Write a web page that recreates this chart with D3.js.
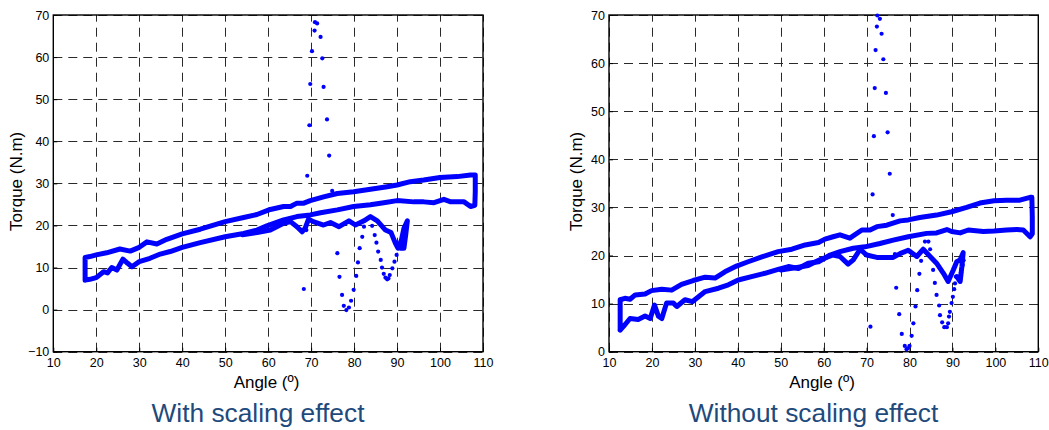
<!DOCTYPE html>
<html>
<head>
<meta charset="utf-8">
<script src="https://cdn.jsdelivr.net/npm/d3@7"></script>
<style>
  html, body { margin: 0; padding: 0; background: #fff; }
  svg { display: block; }
  text { font-family: "Liberation Sans", Arial, sans-serif; }
</style>
</head>
<body>
<svg id="chart" width="1049" height="430"></svg>
<script>
// ---- Data: torque (N.m) against angle (º), [angle, torque] pairs ----

// Left panel: with scaling effect
const scaledLoop = [
  [17.4, 7.0], [18.5, 7.2], [20, 7.6], [21.7, 9.0], [22.6, 8.7], [23.6, 10.0], [24.8, 9.4],
  [26.2, 12.0], [27.3, 11.0], [28.3, 10.2], [30, 11.4], [32.5, 12.2], [34.9, 13.2], [37.2, 13.8],
  [40, 14.8], [44.2, 15.9], [50, 17.3], [54.3, 18.1], [57.4, 18.9], [59.7, 19.9], [63.6, 21.3],
  [66.7, 22.1], [69.8, 22.5], [72.2, 23.0], [76.1, 23.7], [79.9, 24.5], [83.8, 24.9], [86.9, 25.4],
  [90, 25.9], [93.9, 25.6], [96.2, 25.6], [98.6, 25.4], [100.9, 26.2], [102.5, 25.6], [105.6, 25.6],
  [107.1, 24.5], [108.1, 24.8], [108.2, 28.0], [108.2, 32.0],
  [107.1, 32.0], [104, 31.6], [100, 31.4], [96.2, 30.8], [93.1, 30.4], [90, 29.6], [87.7, 29.2],
  [83.8, 28.6], [79.9, 28.0], [76.1, 27.6], [72.9, 26.8], [69.8, 25.9], [68.3, 25.3], [66.7, 25.3],
  [65.2, 24.5], [63.6, 24.5], [60.5, 23.8], [57.4, 22.6], [54.3, 21.9], [50, 20.9], [44.2, 19.1],
  [40, 18.0], [36.4, 16.7], [34.1, 15.6], [31.8, 16.1], [30, 14.8], [27.9, 13.9], [25.5, 14.4],
  [22.4, 13.5], [20, 13.0], [18.5, 12.6], [17.4, 12.4], [17.4, 9.5], [17.4, 7.0]
];
const scaledBranch = [
  [54, 17.8], [57.4, 18.3], [60.5, 18.9], [63.6, 20.5], [65.2, 20.9], [66.7, 19.7], [67.9, 18.5],
  [68.6, 19.3], [69.4, 21.5], [70.5, 20.9], [72.9, 20.1], [74.5, 20.7], [76.5, 19.7], [78.8, 21.1],
  [80.3, 20.1], [82.3, 21.1], [83.8, 22.1], [85.4, 21.1], [87.3, 18.9], [88.6, 18.3], [89.6, 15.8],
  [90.2, 14.6], [91.0, 16.5], [91.6, 19.3], [92.4, 21.1], [92.0, 17.7], [91.6, 14.6], [90.8, 14.6]
];
const scaledDots = [
  [68.3, 4.9], [68.9, 18.9], [69.1, 31.8], [69.6, 43.8], [69.8, 53.6], [70.2, 61.4], [70.8, 66.3],
  [70.9, 68.3], [71.4, 68.0], [72.2, 64.8], [72.6, 59.7], [72.9, 52.9], [73.7, 45.2], [74.2, 36.6],
  [74.9, 28.2], [76.1, 13.4], [76.6, 7.8], [77.2, 3.5], [77.6, 0.9], [78.2, -0.1], [78.8, 0.5],
  [79.3, 2.1], [79.9, 4.7], [80.5, 8.0], [80.9, 11.2], [81.3, 14.6], [81.9, 17.3], [82.3, 19.7],
  [84.2, 19.9], [84.8, 17.7], [85.2, 15.9], [85.6, 13.8], [86.2, 11.8], [86.5, 10.0], [86.9, 8.5],
  [87.3, 7.6], [87.7, 7.2], [88.0, 7.4], [88.3, 8.2], [88.9, 9.8], [89.4, 11.4], [89.9, 13.0]
];

// Right panel: without scaling effect
const unscaledLoop = [
  [12.6, 4.5], [13.7, 5.6], [14.9, 6.9], [16.8, 6.7], [18.4, 7.4], [19.6, 6.9], [20.6, 9.7],
  [21.5, 7.4], [22.3, 6.9], [23.4, 10.1], [25.0, 10.1], [25.8, 9.4], [27.7, 10.8], [29.4, 10.4],
  [32.4, 12.5], [35.5, 13.2], [37.8, 13.9], [40.1, 14.9], [43.2, 15.6], [46.3, 16.3], [49.4, 17.1],
  [51.8, 17.7], [54.1, 17.3], [56.4, 18.4], [58.8, 18.7], [61.5, 20.1], [63.8, 20.8], [66.9, 21.5],
  [69.6, 21.8], [73.1, 22.5], [76.2, 23.2], [79.7, 23.9], [84.0, 24.6], [86.3, 24.7], [88.7, 25.4],
  [89.8, 25.0], [91.8, 24.7], [93.7, 25.3], [97.2, 25.0], [99.7, 25.1], [102.6, 25.3], [105.0, 25.4],
  [106.5, 25.3], [108.1, 23.9], [108.6, 24.5], [108.6, 28.0], [108.5, 32.1],
  [108.1, 32.1], [105.7, 31.5], [102.6, 31.5], [99.7, 31.4], [96.4, 30.9], [93.3, 30.0], [89.8, 29.1],
  [86.3, 28.4], [82.4, 27.9], [79.7, 27.4], [77.8, 27.2], [74.7, 26.3], [72.4, 26.0], [70.8, 25.3],
  [68.9, 25.3], [66.1, 23.6], [63.8, 24.3], [62.2, 23.9], [60.3, 23.4], [58.8, 22.7], [55.7, 22.2],
  [52.6, 21.3], [49.4, 20.8], [45.6, 19.7], [42.4, 18.7], [39.7, 17.8], [37.0, 16.6], [34.7, 15.3],
  [32.4, 15.5], [29.6, 14.8], [26.9, 14.0], [24.6, 12.8], [22.3, 13.0], [19.9, 12.7], [18.4, 12.0],
  [16.1, 11.8], [14.9, 10.9], [13.7, 11.1], [12.6, 10.8], [12.6, 7.0], [12.6, 4.5]
];
const unscaledBranch = [
  [50, 17.0], [53, 17.4], [56.4, 17.9], [59.1, 19.1], [62.2, 20.1], [63.8, 19.8], [65.7, 18.2],
  [66.9, 19.1], [68.5, 21.3], [70.0, 20.1], [72.4, 19.6], [74.7, 19.6], [76.2, 19.6], [77.8, 20.4],
  [79.7, 21.1], [81.7, 19.8], [83.2, 21.3], [84.8, 19.8], [86.3, 18.4], [87.9, 16.3], [89.0, 14.6],
  [90.2, 17.0], [91.0, 18.7], [91.8, 19.1], [92.5, 20.6], [92.2, 17.7], [91.8, 14.6], [91.0, 15.6]
];
const unscaledDots = [
  [70.9, 5.2], [71.4, 32.7], [71.7, 44.8], [71.9, 54.8], [72.1, 62.7], [72.4, 67.6], [72.5, 69.9],
  [73.1, 69.2], [73.5, 66.1], [73.9, 60.8], [74.5, 53.8], [74.9, 45.6], [75.4, 37.0], [76.1, 28.4],
  [76.6, 20.3], [76.9, 13.3], [77.6, 7.8], [78.2, 3.7], [78.9, 1.2], [79.3, 0.5], [79.6, 0.7],
  [80.0, 1.2], [80.5, 3.3], [80.9, 5.9], [81.4, 9.4], [81.8, 12.8], [82.3, 16.2], [82.7, 18.9],
  [83.6, 22.9], [84.4, 22.9], [84.8, 21.3], [85.5, 17.0], [85.9, 14.3], [86.3, 11.8], [86.9, 9.6],
  [87.1, 7.6], [87.6, 6.1], [88.1, 5.1], [88.7, 5.1], [89.0, 5.9], [89.2, 7.3], [89.4, 8.3],
  [89.8, 10.1], [90.1, 11.4], [90.4, 13.0], [90.6, 14.2], [90.8, 15.6], [91.6, 15.6], [92.0, 16.5],
  [92.2, 17.3], [92.4, 18.0], [92.6, 19.0]
];

// Tick values and labels
const angleTicks = [10, 20, 30, 40, 50, 60, 70, 80, 90, 100, 110];
const torqueTicksScaled = [-10, 0, 10, 20, 30, 40, 50, 60, 70];
const torqueTicksUnscaled = [0, 10, 20, 30, 40, 50, 60, 70];
const xTitle = "Angle (º)";
const yTitle = "Torque (N.m)";
const captions = ["With scaling effect", "Without scaling effect"];

// ---- Drawing ----
const svg = d3.select("#chart");
svg.append("rect").attr("width", 1049).attr("height", 430).attr("fill", "#fff");

const markColor = "#0000ff";

function drawPanel(cfg) {
  const x = d3.scaleLinear().domain([10, 110]).range([cfg.left, cfg.right]);
  const y = d3.scaleLinear().domain(cfg.yDomain).range([cfg.bottom, cfg.top]);
  const g = svg.append("g");

  // dashed grid
  const grid = g.append("g")
    .attr("stroke", "#2a2a2a")
    .attr("stroke-width", 1)
    .attr("stroke-dasharray", "9,6");
  grid.selectAll("line.v").data(angleTicks).join("line")
    .attr("class", "v")
    .attr("x1", d => Math.round(x(d)) + 0.5).attr("x2", d => Math.round(x(d)) + 0.5)
    .attr("y1", cfg.bottom).attr("y2", cfg.top);
  grid.selectAll("line.h").data(cfg.yTicks).join("line")
    .attr("class", "h")
    .attr("y1", d => Math.round(y(d)) + 0.5).attr("y2", d => Math.round(y(d)) + 0.5)
    .attr("x1", cfg.left).attr("x2", cfg.right);

  // axes with tick labels
  const xAxis = d3.axisBottom(x).tickValues(angleTicks).tickSize(4).tickPadding(-2)
    .tickFormat(d3.format("d"));
  const gx = g.append("g").attr("transform", `translate(0,${cfg.bottom})`).call(xAxis);
  gx.select(".domain").remove();
  gx.selectAll(".tick line").attr("y2", -4).attr("stroke", "#000");
  gx.selectAll(".tick text")
    .attr("y", 15.5).attr("dy", 0)
    .attr("font-size", 12.5).attr("fill", "#000")
    .attr("font-family", '"Liberation Sans", Arial, sans-serif');

  const yAxis = d3.axisLeft(y).tickValues(cfg.yTicks).tickSize(4).tickFormat(d3.format("d"));
  const gy = g.append("g").attr("transform", `translate(${cfg.left},0)`).call(yAxis);
  gy.select(".domain").remove();
  gy.selectAll(".tick line").attr("x2", 4).attr("stroke", "#000");
  gy.selectAll(".tick text")
    .attr("x", -4).attr("dy", "0.32em")
    .attr("font-size", 12.5).attr("fill", "#000")
    .attr("font-family", '"Liberation Sans", Arial, sans-serif');

  // plot box
  g.append("rect")
    .attr("x", cfg.left).attr("y", cfg.top)
    .attr("width", cfg.right - cfg.left).attr("height", cfg.bottom - cfg.top)
    .attr("fill", "none").attr("stroke", "#000").attr("stroke-width", 1.4);

  // measured traces
  const line = d3.line().x(d => x(d[0])).y(d => y(d[1]));
  [cfg.loop, cfg.branch].forEach(series => {
    g.append("path")
      .attr("d", line(series))
      .attr("fill", "none")
      .attr("stroke", markColor)
      .attr("stroke-width", 5)
      .attr("stroke-linejoin", "round")
      .attr("stroke-linecap", "round");
  });

  g.append("g").selectAll("circle").data(cfg.dots).join("circle")
    .attr("cx", d => x(d[0])).attr("cy", d => y(d[1]))
    .attr("r", 2.1).attr("fill", markColor);

  // titles
  g.append("text")
    .attr("x", cfg.xTitleX).attr("y", 387.5)
    .attr("text-anchor", "middle").attr("font-size", 17).attr("fill", "#000")
    .text(xTitle);
  g.append("text")
    .attr("transform", `translate(${cfg.yTitleX},${(cfg.top + cfg.bottom) / 2 - 2}) rotate(-90)`)
    .attr("text-anchor", "middle").attr("font-size", 17).attr("fill", "#000")
    .text(yTitle);
  g.append("text")
    .attr("x", cfg.captionX).attr("y", 421.5)
    .attr("text-anchor", "middle").attr("font-size", 26.3).attr("fill", "#1f4a7c")
    .text(cfg.caption);
}

drawPanel({
  left: 53.3, right: 483, top: 15, bottom: 351.7,
  yDomain: [-10, 70], yTicks: torqueTicksScaled,
  loop: scaledLoop, branch: scaledBranch, dots: scaledDots,
  xTitleX: 266.5, yTitleX: 21.5, captionX: 258, caption: captions[0]
});

drawPanel({
  left: 609, right: 1038.3, top: 15, bottom: 351.7,
  yDomain: [0, 70], yTicks: torqueTicksUnscaled,
  loop: unscaledLoop, branch: unscaledBranch, dots: unscaledDots,
  xTitleX: 822, yTitleX: 581.5, captionX: 813.5, caption: captions[1]
});
</script>
</body>
</html>
